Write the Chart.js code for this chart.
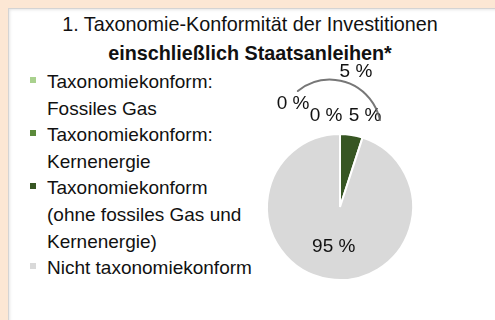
<!DOCTYPE html>
<html>
<head>
<meta charset="utf-8">
<script src="https://cdn.jsdelivr.net/npm/chart.js@4.4.1/dist/chart.umd.min.js"></script>
<style>
  html, body { margin: 0; padding: 0; }
  body {
    width: 495px; height: 320px; overflow: hidden; position: relative;
    background: #fce7d4;
    font-family: "Liberation Sans", Arial, sans-serif; color: #111;
  }
  #panel {
    position: absolute; left: 8px; top: 8px; right: -4px; bottom: -4px;
    background: #ffffff;
    border-top: 1px solid #d4d4d4; border-left: 1px solid #d4d4d4;
    box-shadow: inset 1px 1px 3px rgba(0,0,0,0.10);
  }
  #title {
    position: absolute; left: 0; top: 10px; width: 500px;
    text-align: center; font-size: 19.8px; line-height: 28.5px;
  }
  #title .sub { font-weight: bold; }
  #legend {
    position: absolute; left: 47px; top: 69px; margin: 0; padding: 0;
    list-style: none; font-size: 19px; line-height: 26.6px;
  }
  #legend li { position: relative; white-space: nowrap; }
  #legend .box { position: absolute; left: -17px; top: 8px; width: 6px; height: 6px; }
  #pieBox { position: absolute; left: 250px; top: 60px; width: 200px; height: 240px; }
</style>
</head>
<body>
<div id="panel"></div>
<div id="title"></div>
<ul id="legend"></ul>
<div id="pieBox"><canvas id="pie" width="200" height="240"></canvas></div>

<script>
// Chart text
const titleLine = "1. Taxonomie-Konformität der Investitionen";
const subtitleLine = "einschließlich Staatsanleihen*";

// Categories (legend lines) and their shares in percent
const categories = [
  ["Taxonomiekonform:", "Fossiles Gas"],
  ["Taxonomiekonform:", "Kernenergie"],
  ["Taxonomiekonform", "(ohne fossiles Gas und", "Kernenergie)"],
  ["Nicht taxonomiekonform"]
];
const shares = [0, 0, 5, 95];
const colors = ["#a9d18e", "#5b8a3b", "#375623", "#d9d9d9"];

// Indices of the slices grouped under the bracket (all taxonomy-aligned parts)
const alignedGroup = [0, 1, 2];

// Label placement around the pie: angle in degrees (canvas), distance in radii
const labelPlacement = [
  { angle: -114.5, dist: 1.55 },
  { angle: -98.7,  dist: 1.26 },
  { angle: -74.6,  dist: 1.29 },
  { angle: null,   dist: 0.55 }   // null: middle of the slice
];
const groupLabelPlacement = { angle: -83.3, dist: 1.87 };
const bracket = { dx: -0.137, dy: -1.045, r: 0.70, from: -129, to: -12 };

const fmt = v => v + " %";

// Title
document.getElementById("title").innerHTML =
  "<div>" + titleLine + "</div><div class='sub'>" + subtitleLine + "</div>";

// Legend
const legendEl = document.getElementById("legend");
categories.forEach((lines, i) => {
  const li = document.createElement("li");
  const box = document.createElement("span");
  box.className = "box";
  box.style.background = colors[i];
  li.appendChild(box);
  lines.forEach((t, k) => {
    if (k) li.appendChild(document.createElement("br"));
    li.appendChild(document.createTextNode(t));
  });
  legendEl.appendChild(li);
});

const rad = d => d * Math.PI / 180;
const FONT = '19px "Liberation Sans", Arial, sans-serif';

// Draws value labels, the group bracket and the group total
const pieLabels = {
  id: "pieLabels",
  afterDatasetsDraw(chart) {
    const ctx = chart.ctx;
    const arcs = chart.getDatasetMeta(0).data;
    const cx = arcs[0].x, cy = arcs[0].y, R = arcs[0].outerRadius;
    ctx.save();
    ctx.font = FONT;
    ctx.fillStyle = "#111";
    ctx.textAlign = "center";
    ctx.textBaseline = "middle";

    arcs.forEach((arc, i) => {
      const p = labelPlacement[i];
      const a = p.angle === null ? (arc.startAngle + arc.endAngle) / 2 : rad(p.angle);
      ctx.fillText(fmt(shares[i]), cx + Math.cos(a) * p.dist * R, cy + Math.sin(a) * p.dist * R);
    });

    // bracket over the aligned slices
    const bx = cx + bracket.dx * R, by = cy + bracket.dy * R, br = bracket.r * R;
    ctx.strokeStyle = "rgba(95,95,95,0.85)";
    ctx.lineWidth = 2;
    ctx.lineCap = "round";
    ctx.beginPath();
    ctx.arc(bx, by, br, rad(bracket.from), rad(bracket.to));
    ctx.stroke();

    const total = alignedGroup.reduce((s, i) => s + shares[i], 0);
    const g = rad(groupLabelPlacement.angle);
    ctx.fillText(fmt(total), cx + Math.cos(g) * groupLabelPlacement.dist * R,
                             cy + Math.sin(g) * groupLabelPlacement.dist * R);
    ctx.restore();
  }
};

new Chart(document.getElementById("pie"), {
  type: "pie",
  data: {
    labels: categories.map(l => l.join(" ")),
    datasets: [{
      data: shares,
      backgroundColor: colors,
      borderColor: "#ffffff",
      borderWidth: 2
    }]
  },
  options: {
    responsive: false,
    animation: false,
    layout: { padding: { left: 16, right: 36, top: 73, bottom: 19 } },
    plugins: { legend: { display: false }, tooltip: { enabled: false } }
  },
  plugins: [pieLabels]
});
</script>
</body>
</html>
